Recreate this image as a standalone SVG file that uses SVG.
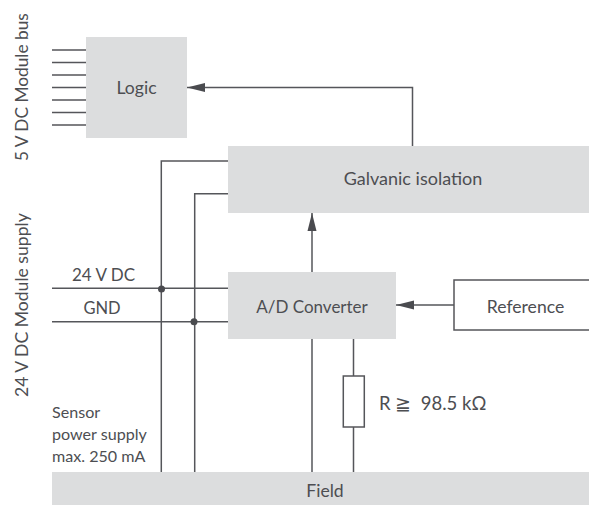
<svg xmlns="http://www.w3.org/2000/svg" width="589" height="505" viewBox="0 0 589 505">
<style>
text{font-family:Lato,"Open Sans",sans-serif;font-size:17.600px;fill:#4d4e52}
.sm{font-size:16.100px}
.box{fill:#dcddde}
.ln{fill:none;stroke:#55565a;stroke-width:1.5}
.c{text-anchor:middle}
</style>
<defs>
<marker id="arr" markerUnits="userSpaceOnUse" markerWidth="18" markerHeight="10" refX="18" refY="5" orient="auto"><path d="M18 5L0 0.500V9.500Z" fill="#4a4b4f"/></marker>
</defs>
<rect width="589" height="505" fill="#fff"/>
<g id="connectors">
<path class="ln" d="M52 50H86M52 62.500H86M52 75H86M52 87.500H86M52 100H86M52 112.500H86M52 125H86"/>
<path class="ln" d="M412.500 146V87.500H187" marker-end="url(#arr)"/>
<path class="ln" d="M228 161H161.300V472M228 193.700H194.700V472"/>
<path class="ln" d="M52 288.300H228M52 321.700H228"/>
<path class="ln" d="M312 272V213" marker-end="url(#arr)"/>
<path class="ln" d="M312 339V472"/>
<path class="ln" d="M454 305H396" marker-end="url(#arr)"/>
<path class="ln" d="M353.500 339V376M353.500 427V472"/>
<circle cx="161.500" cy="289" r="3.500" fill="#4a4b4f"/>
<circle cx="194" cy="321.700" r="3.500" fill="#4a4b4f"/>
</g>
<g id="logic"><rect class="box" x="86" y="37" width="101" height="101"/><text class="c" x="136.500" y="93.500">Logic</text></g>
<g id="galvanic"><rect class="box" x="228" y="146" width="361" height="67"/><text class="c" x="413" y="184.500" style="font-size:18px">Galvanic isolation</text></g>
<g id="adc"><rect class="box" x="228" y="272" width="168" height="67"/><text class="c" x="312" y="312.500" style="font-size:17px">A/D Converter</text></g>
<g id="reference"><rect x="454" y="280" width="140" height="50" fill="#fff" stroke="#55565a" stroke-width="1.500"/><text class="c" x="525.500" y="313">Reference</text></g>
<g id="resistor"><rect x="343.300" y="376" width="21" height="51" fill="#fff" stroke="#55565a" stroke-width="1.500"/><text x="379" y="410" xml:space="preserve" style="font-size:18.500px">R ≧  98.5 kΩ</text></g>
<g id="field"><rect class="box" x="52" y="472" width="537" height="33"/><text class="c" x="325" y="496.500">Field</text></g>
<g id="labels">
<text class="c" x="103.500" y="281" style="font-size:17px">24 V DC</text>
<text class="c" x="102" y="313.500" style="font-size:16.500px">GND</text>
<text class="sm" x="52" y="418">Sensor</text>
<text class="sm" x="52" y="440">power supply</text>
<text class="sm" x="52" y="462">max. 250 mA</text>
<text transform="translate(28 161) rotate(-90)" style="font-size:17.300px">5 V DC Module bus</text>
<text transform="translate(28 397) rotate(-90)" style="font-size:17.600px">24 V DC Module supply</text>
</g>
</svg>
